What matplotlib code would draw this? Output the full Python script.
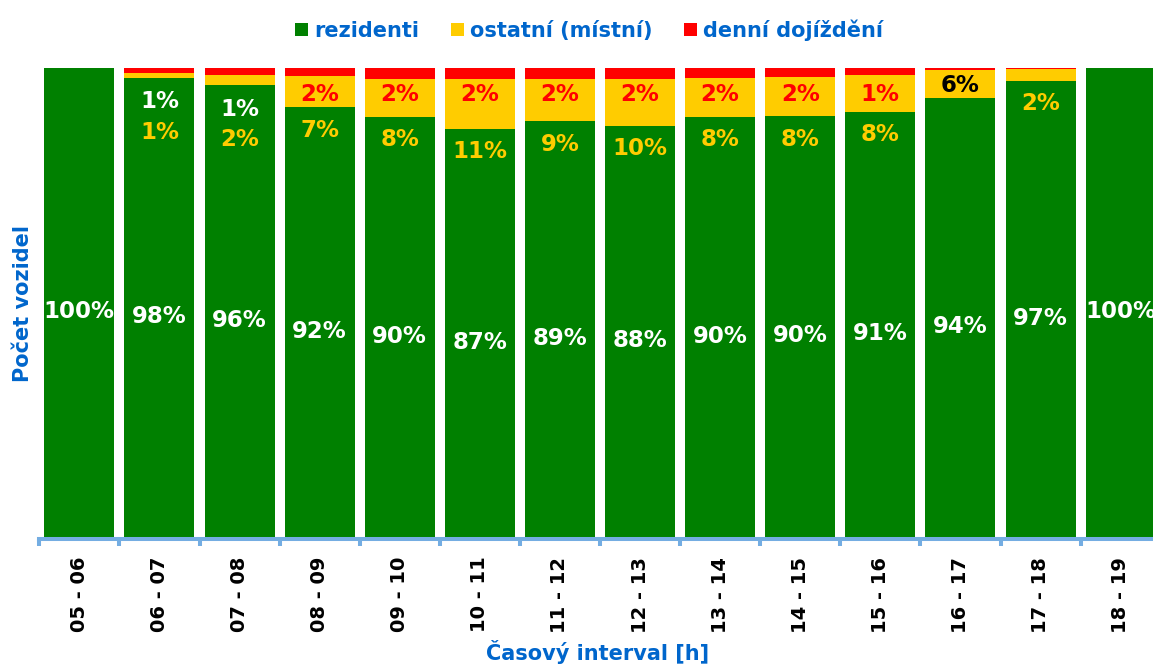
import matplotlib
matplotlib.use("Agg")
import matplotlib.pyplot as plt
import matplotlib.transforms as mtransforms
from matplotlib.patches import Patch
import numpy as np

plt.rcParams['font.family'] = ['DejaVu Sans']
plt.rcParams['font.weight'] = 'bold'

categories = ["05 - 06", "06 - 07", "07 - 08", "08 - 09", "09 - 10", "10 - 11", "11 - 12",
              "12 - 13", "13 - 14", "14 - 15", "15 - 16", "16 - 17", "17 - 18", "18 - 19"]
rezidenti = [100.0, 97.9, 96.3, 91.6, 89.6, 87.0, 88.6, 87.7, 89.6, 89.7, 90.7, 93.6, 97.3, 100.0]
ostatni   = [0.0, 1.1, 2.3, 6.6, 8.0, 10.6, 9.0, 9.9, 8.3, 8.3, 7.9, 6.0, 2.4, 0.0]
denni     = [0.0, 1.0, 1.4, 1.8, 2.4, 2.4, 2.4, 2.4, 2.1, 2.0, 1.4, 0.4, 0.3, 0.0]
series_names = ["rezidenti", "ostatní (místní)", "denní dojíždění"]

GREEN = "#008000"
YELLOW = "#FFCC00"
RED = "#FF0000"
BLUE = "#0066CC"
AXIS = "#74ADE2"

W, H = 1153, 668
fig = plt.figure(figsize=(W / 100, H / 100), dpi=100)
ax = fig.add_axes([39.3 / W, (H - 536.5) / H, 1121.4 / W, 468.5 / H])

x = np.arange(len(categories))
g = np.array(rezidenti)
o = np.array(ostatni)
d = np.array(denni)
bw = 0.874
ax.bar(x, g, bw, color=GREEN, linewidth=0)
ax.bar(x, o, bw, bottom=g, color=YELLOW, linewidth=0)
ax.bar(x, d, bw, bottom=g + o, color=RED, linewidth=0)

ax.set_xlim(-0.5, len(categories) - 0.5)
ax.set_ylim(0, 100)

for s in ['top', 'right', 'left']:
    ax.spines[s].set_visible(False)
ax.spines['bottom'].set_color(AXIS)
ax.spines['bottom'].set_linewidth(2.9)
ax.spines['bottom'].set_position(('outward', 1.5))
ax.set_yticks([])

ax.set_xticks(x)
ax.set_xticklabels(categories, rotation=90, fontsize=14, fontweight='bold', color='black')
ax.tick_params(axis='x', which='major', length=0, pad=13)
ax.set_xticks(np.arange(len(categories) + 1) - 0.5, minor=True)
ax.tick_params(axis='x', which='minor', length=5, width=2.9, color=AXIS, direction='out')

FS = 16.5

def label(xi, yc, txt, color):
    tr = mtransforms.offset_copy(ax.transData, fig=fig, x=0, y=-0.365 * FS, units='points')
    ax.text(xi, yc, txt, transform=tr, ha='center', va='baseline', fontsize=FS,
            fontweight='bold', color=color, clip_on=False)

for i in x:
    gi, oi, di = g[i], o[i], d[i]
    # resident share, centred in the green column
    label(i, (gi - 3.3) / 2, f"{gi:.0f}%", 'white')
    if oi >= 5 and di >= 0.5:
        label(i, 94.7, f"{di:.0f}%", RED)
        label(i, gi - 4.5, f"{oi:.0f}%", YELLOW)
    elif di >= 0.5:
        label(i, gi - 4.7, f"{di:.0f}%", 'white')
        label(i, gi - 11.2, f"{oi:.0f}%", YELLOW)
    elif oi >= 5:
        label(i, gi + oi / 2, f"{oi:.0f}%", 'black')
    elif oi > 0:
        label(i, gi - 4.5, f"{oi:.0f}%", YELLOW)

handles = [Patch(facecolor=c, edgecolor='none') for c in (GREEN, YELLOW, RED)]
leg = fig.legend(handles, series_names, loc='center', bbox_to_anchor=(589 / W, 1 - 30 / H),
                 ncol=3, frameon=False, fontsize=15, handlelength=0.63, handleheight=0.63,
                 handletextpad=0.3, columnspacing=1.5, borderpad=0)
for t in leg.get_texts():
    t.set_color(BLUE)
    t.set_fontweight('bold')

fig.text(598 / W, 1 - 652 / H, "Časový interval [h]", ha='center', va='center',
         fontsize=15, fontweight='bold', color=BLUE)
fig.text(23 / W, 1 - 304 / H, "Počet vozidel", ha='center', va='center', rotation=90,
         fontsize=15, fontweight='bold', color=BLUE)

fig.savefig("out.png", dpi=100)
